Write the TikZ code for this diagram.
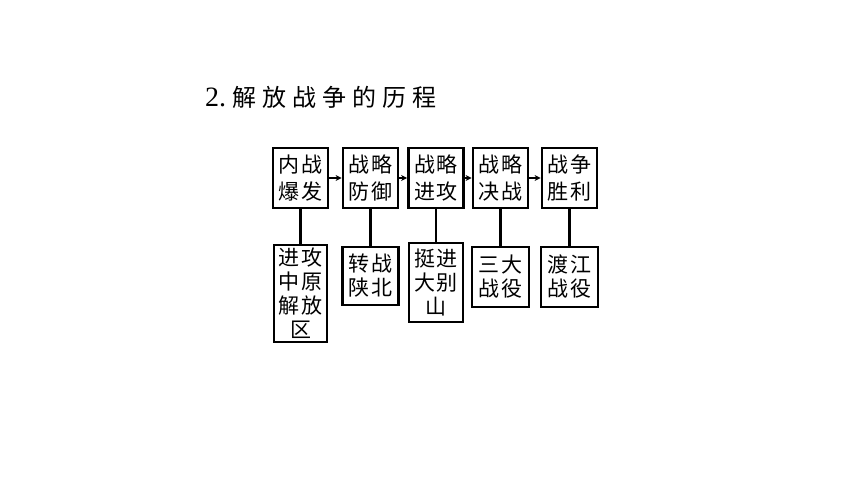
\documentclass[tikz,border=0pt]{standalone}
\usepackage{fontspec}
\setmainfont{Liberation Serif}
\newfontfamily\cjk{Noto Sans CJK SC}
\usetikzlibrary{arrows.meta}
\newcommand{\gp}{\hspace{2pt}}
\newcommand{\tg}{\hspace{6pt}}
\tikzset{
  topbox/.style={draw, line width=2.8pt, minimum width=55pt, minimum height=60pt, inner sep=0pt,
    align=center, font=\cjk\fontsize{21}{27}\selectfont},
  botbox/.style={draw, line width=2.8pt, inner sep=0pt,
    align=center, font=\cjk\fontsize{21}{24}\selectfont},
  arr/.style={line width=2pt, -{Stealth[length=6pt,width=6pt]}},
  link/.style={line width=2.2pt}
}
\begin{document}
\begin{tikzpicture}[x=1pt,y=-1pt]
\useasboundingbox (0,0) rectangle (860,484);
\fill[white] (0,0) rectangle (860,484);
\node[anchor=base west, inner sep=0pt, font=\fontsize{28}{28}\selectfont] (title) at (205,107)
  {2.\hspace{6pt}{\cjk\fontsize{24}{24}\selectfont 解\tg 放\tg 战\tg 争\tg 的\tg 历\tg 程}};
\node[topbox] (t1) at (300.5,178) {内\gp 战\\爆\gp 发};
\node[topbox] (t2) at (370.5,178) {战\gp 略\\防\gp 御};
\node[topbox] (t3) at (436,178) {战\gp 略\\进\gp 攻};
\node[topbox] (t4) at (500.5,178) {战\gp 略\\决\gp 战};
\node[topbox] (t5) at (569.5,178) {战\gp 争\\胜\gp 利};
\node[botbox, minimum width=53pt, minimum height=97pt] (b1) at (300.5,293.5) {进\gp 攻\\中\gp 原\\解\gp 放\\区};
\node[botbox, minimum width=56pt, minimum height=58pt] (b2) at (370.5,276) {转\gp 战\\陕\gp 北};
\node[botbox, minimum width=54pt, minimum height=79pt] (b3) at (436,282.5) {挺\gp 进\\大\gp 别\\山};
\node[botbox, minimum width=57pt, minimum height=60pt] (b4) at (500.5,277) {三\gp 大\\战\gp 役};
\node[botbox, minimum width=57pt, minimum height=60pt] (b5) at (569.5,277) {渡\gp 江\\战\gp 役};
\foreach \a/\b in {t1/t2,t2/t3,t3/t4,t4/t5} \draw[arr] (\a.east) -- (\b.west);
\foreach \i in {1,...,5} \draw[link] (t\i.south) -- (b\i.north);
\end{tikzpicture}
\end{document}
